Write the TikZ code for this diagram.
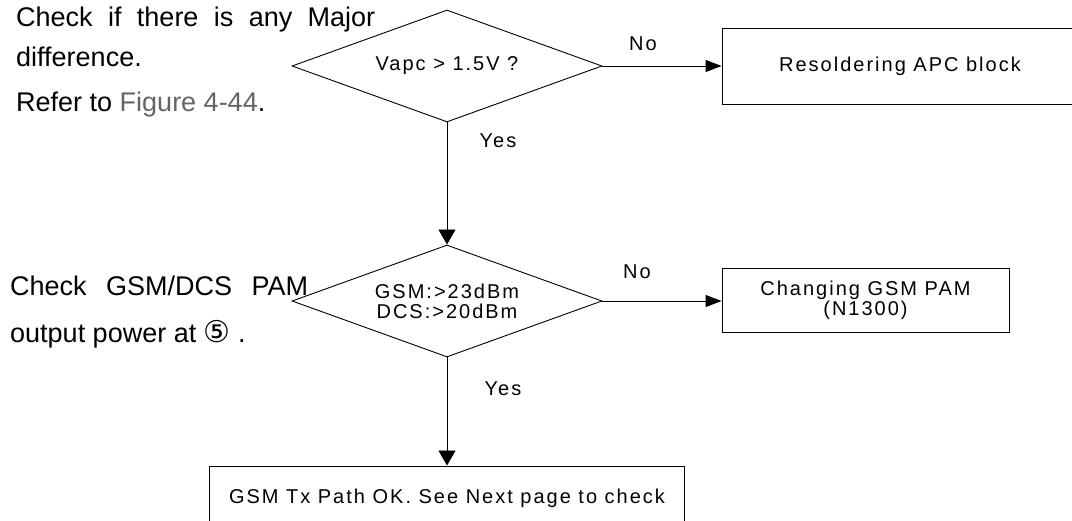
\documentclass[tikz,border=0pt]{standalone}
\usepackage{fontspec}
\setmainfont{Liberation Sans}
\newfontfamily\diafont[LetterSpace=10]{Liberation Sans}
\newfontfamily\symfont{DejaVu Sans}
\usetikzlibrary{shapes.geometric,arrows.meta}
\tikzset{
  x=1pt, y=-1pt,
  line/.style={draw=black, line width=0.9pt},
  decision/.style={line, shape=diamond, shape aspect=2.77, minimum width=310pt,
    minimum height=112pt, inner sep=0pt, align=center,
    font=\diafont\fontsize{20}{20}\selectfont},
  boxnode/.style={line, rectangle, inner sep=0pt, align=center,
    font=\diafont\fontsize{20}{20}\selectfont},
  lbl/.style={inner sep=0pt, font=\diafont\fontsize{20}{20}\selectfont},
  note/.style={inner sep=0pt, anchor=base west, font=\fontsize{27}{42}\selectfont},
  harrow/.style={line, -{Triangle[length=16pt, width=12pt]}},
  varrow/.style={line, -{Triangle[length=15pt, width=17pt]}},
}
\definecolor{figgray}{RGB}{100,100,100}
\begin{document}
\begin{tikzpicture}
\useasboundingbox (0,0) rectangle (1072,521);

% left notes
\node[note] (n1) at (16,27) {\makebox[359pt][s]{Check if there is any Major}};
\node[note] (n2) at (16,67) {difference.};
\node[note] (n3) at (16,112) {Refer to {\color{figgray}Figure 4-44}.};
\node[note] (n4) at (10,296) {\makebox[298pt][s]{Check GSM/DCS PAM}};
\node[note] (n5) at (10,343) {output power at {\symfont\fontsize{30}{30}\selectfont ⑤} .};

% flow nodes
\node[decision] (d1) at (447,66) {Vapc > 1.5V ?};
\node[boxnode, minimum width=356pt, minimum height=76pt] (b1) at (900,66) {Resoldering APC block};
\node[decision] (d2) at (447,301) {GSM:>23dBm\\DCS:>20dBm};
\node[boxnode, minimum width=287pt, minimum height=64pt] (b2) at (865.5,300.5) {Changing GSM PAM\\(N1300)};
\node[boxnode, minimum width=475pt, minimum height=64pt] (b3) at (447,498) {GSM Tx Path OK. See Next page to check};

% connectors
\draw[harrow] (d1.east) -- (b1.west |- d1.east);
\draw[varrow] (d1.south) -- (d2.north);
\draw[harrow] (d2.east) -- (b2.west |- d2.east);
\draw[varrow] (d2.south) -- (d2.south |- b3.north);

% labels
\node[lbl] (no1) at (643,44) {No};
\node[lbl] (yes1) at (498,141) {Yes};
\node[lbl] (no2) at (637,272) {No};
\node[lbl] (yes2) at (503,389) {Yes};
\end{tikzpicture}
\end{document}
